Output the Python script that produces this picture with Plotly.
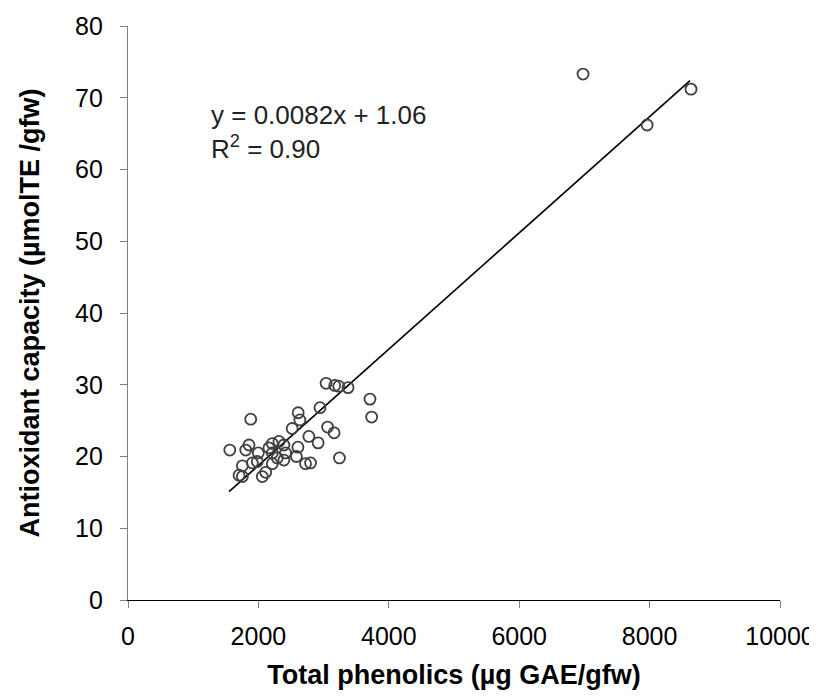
import plotly.graph_objects as go

# total phenolics (ug GAE/gfw) and antioxidant capacity (umolTE/gfw)
phenolics = [3038, 3171, 3232, 3375, 3711, 3737, 2945, 2610, 2636, 1882,
             2518, 3061, 3161, 2774, 2916, 2606, 2391, 2315, 2213, 2162,
             1856, 1561, 1806, 1998, 2213, 2417, 2583, 3243, 2723, 2800,
             1754, 1983, 2213, 2112, 1703, 1754, 2060, 2289, 1907, 2391,
             6979, 7962, 8635]
antioxidant = [30.2, 29.9, 29.8, 29.6, 28.0, 25.5, 26.8, 26.1, 25.1, 25.2,
               23.9, 24.1, 23.3, 22.8, 21.9, 21.3, 21.6, 22.1, 21.8, 21.2,
               21.6, 20.9, 20.9, 20.5, 20.5, 20.5, 20.0, 19.8, 19.0, 19.1,
               18.7, 19.3, 19.0, 17.8, 17.4, 17.2, 17.2, 19.8, 19.1, 19.5,
               73.3, 66.2, 71.2]

# linear trend line as drawn
trend_x = [1550, 8620]
trend_y = [15.1, 72.4]

x_ticks = [0, 2000, 4000, 6000, 8000, 10000]
y_ticks = [0, 10, 20, 30, 40, 50, 60, 70, 80]

font = "Liberation Sans, Arial, sans-serif"

fig = go.Figure()
fig.add_trace(go.Scatter(x=trend_x, y=trend_y, mode='lines',
                         line=dict(color='black', width=1.6), showlegend=False))
fig.add_trace(go.Scatter(x=phenolics, y=antioxidant, mode='markers',
                         marker=dict(symbol='circle-open', size=11, color='#404040',
                                     line=dict(color='#404040', width=1.8)),
                         showlegend=False))

fig.add_annotation(x=1245, y=67.6, xref='x', yref='y', xanchor='left', yanchor='middle',
                   text="y = 0.0082x + 1.06", showarrow=False,
                   font=dict(family=font, size=26, color='#222222'))
fig.add_annotation(x=1245, y=63.1, xref='x', yref='y', xanchor='left', yanchor='middle',
                   text="R<sup>2</sup> = 0.90", showarrow=False,
                   font=dict(family=font, size=26, color='#222222'))

# page body has an 8px margin, so the figure is sized to fit the window
fig.update_layout(
    width=809, height=682,
    margin=dict(l=120, r=37, t=18, b=90),
    plot_bgcolor='white', paper_bgcolor='white',
    font=dict(family=font, size=25, color='black'),
)
fig.update_xaxes(range=[0, 10000], tickvals=x_ticks, ticktext=[str(v) for v in x_ticks],
                 automargin=False, ticklabeloverflow='allow',
                 showgrid=False, zeroline=False, showline=True, linecolor='black',
                 linewidth=1.2, ticks='outside', ticklen=7, tickcolor='#808080',
                 ticklabelstandoff=7,
                 title=dict(text="<b>Total phenolics (µg GAE/gfw)</b>", standoff=18,
                            font=dict(size=27)))
fig.update_yaxes(range=[0, 80], tickvals=y_ticks, ticktext=[str(v) for v in y_ticks],
                 automargin=False, ticklabeloverflow='allow',
                 showgrid=False, zeroline=False, showline=True, linecolor='#808080',
                 linewidth=1.2, ticks='outside', ticklen=7, tickcolor='#808080',
                 ticklabelstandoff=12,
                 title=dict(text="<b>Antioxidant capacity (µmolTE /gfw)</b>", standoff=27,
                            font=dict(size=27)))

fig.write_html("out.html")
